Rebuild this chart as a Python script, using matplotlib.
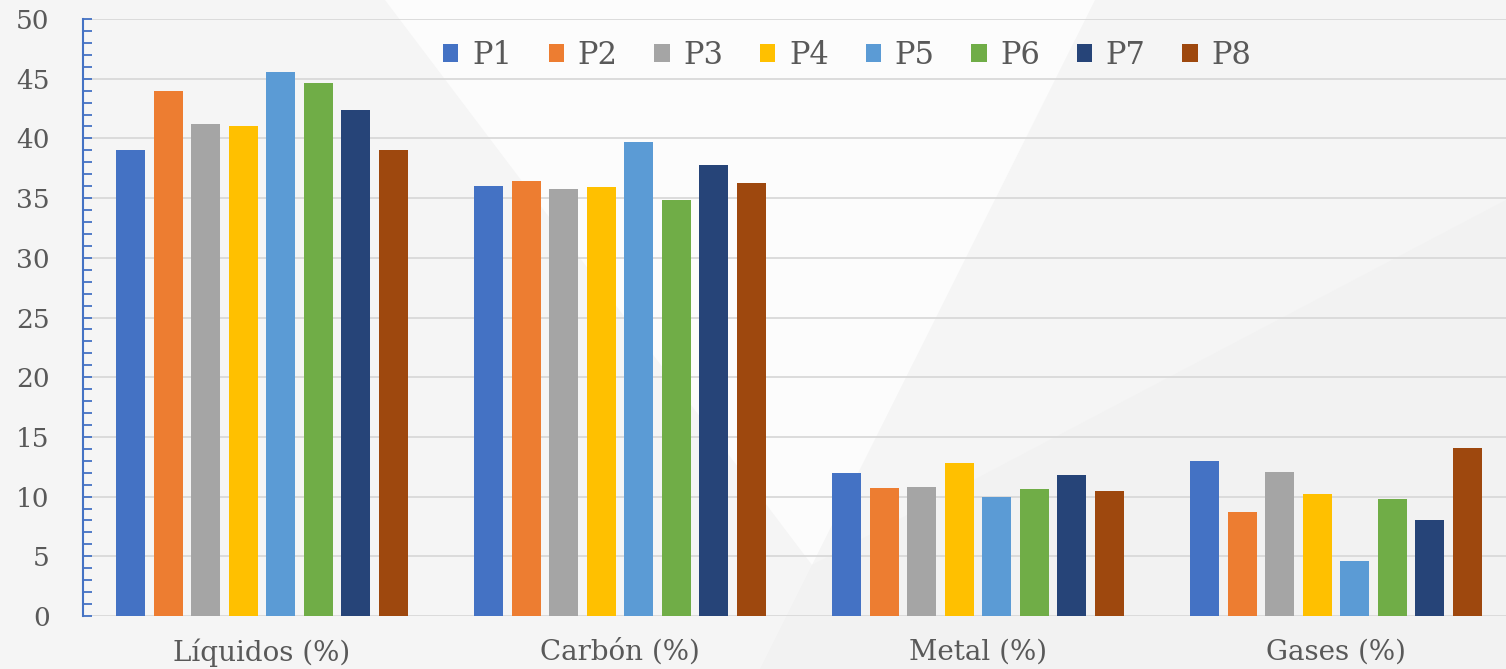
import numpy as np
import matplotlib
matplotlib.use("Agg")
import matplotlib.pyplot as plt
from matplotlib.patches import Polygon
from matplotlib.ticker import MultipleLocator

categories = ["Líquidos (%)", "Carbón (%)", "Metal (%)", "Gases (%)"]
series = ["P1", "P2", "P3", "P4", "P5", "P6", "P7", "P8"]
values = {
    "P1": [39.0, 36.0, 12.0, 13.0],
    "P2": [44.0, 36.4, 10.7, 8.7],
    "P3": [41.2, 35.8, 10.8, 12.1],
    "P4": [41.0, 35.9, 12.8, 10.2],
    "P5": [45.6, 39.7, 10.0, 4.6],
    "P6": [44.6, 34.8, 10.6, 9.8],
    "P7": [42.4, 37.8, 11.8, 8.0],
    "P8": [39.0, 36.3, 10.5, 14.1],
}
colors = ["#4472c4", "#ed7d31", "#a5a5a5", "#ffc000",
          "#5b9bd5", "#70ad47", "#264478", "#9e480e"]

W, H = 1506, 669
fig = plt.figure(figsize=(W / 100, H / 100), dpi=100)
fig.patch.set_facecolor("#f5f5f5")

# faint background shapes, drawn in an axes under the chart (pixels, y down)
bg = fig.add_axes([0, 0, 1, 1], zorder=-1)
bg.set_xlim(0, W)
bg.set_ylim(H, 0)
bg.axis("off")
bg.add_patch(Polygon([(385, 0), (1095, 0), (812, 565)], closed=True,
                     facecolor="#fcfcfc", edgecolor="none"))
bg.add_patch(Polygon([(812, 565), (1506, 200), (1506, 669), (760, 669)],
                     closed=True, facecolor="#f2f2f2", edgecolor="none"))

ax = fig.add_axes([83 / W, 53 / H, 1 - 83 / W, 597 / H])
ax.set_facecolor("none")

x = np.arange(len(categories))
pitch = 0.1047
width = 0.081
for i, name in enumerate(series):
    ax.bar(x + (i - 3.5) * pitch, values[name], width, color=colors[i],
           label=name, zorder=3)

ax.set_xlim(-0.5, 3.475)
ax.set_ylim(0, 50)
ax.yaxis.set_major_locator(MultipleLocator(5))
ax.yaxis.set_minor_locator(MultipleLocator(1))
ax.grid(axis="y", color="#d9d9d9", linewidth=1.3, zorder=0)
ax.set_axisbelow(True)

for s in ["top", "right", "bottom"]:
    ax.spines[s].set_visible(False)
ax.spines["left"].set_color("#4472c4")
ax.spines["left"].set_linewidth(1.5)

txt = "#595959"
ax.tick_params(axis="y", which="both", direction="in", length=6.5,
               width=1.3, color="#4472c4", labelcolor=txt,
               labelsize=19, pad=24)
ax.tick_params(axis="x", length=0, labelcolor=txt, labelsize=20, pad=16)
ax.set_xticks(x)
ax.set_xticklabels(categories)
for lab in ax.get_xticklabels() + ax.get_yticklabels():
    lab.set_fontfamily("DejaVu Serif")

leg = ax.legend(loc="center", bbox_to_anchor=(0.537, 0.939), ncol=8,
                frameon=False, handlelength=0.5, handleheight=0.5,
                handletextpad=0.45, columnspacing=1.2,
                prop={"family": "DejaVu Serif", "size": 22})
for t in leg.get_texts():
    t.set_color(txt)

fig.savefig("out.png", dpi=100, facecolor=fig.get_facecolor())
